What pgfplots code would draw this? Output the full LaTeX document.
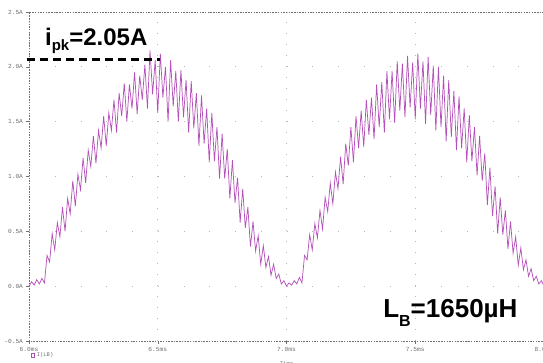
\documentclass[border=0pt]{standalone}
\usepackage{fontspec}
\setmainfont{Liberation Sans}
\newfontfamily\monofont{Liberation Mono}
\usepackage{pgfplots}
\pgfplotsset{compat=1.18}
\definecolor{trace}{RGB}{180,80,185}
\definecolor{tickgray}{RGB}{110,110,110}
\begin{document}
\begin{tikzpicture}
\begin{axis}[
 at={(29pt,21pt)}, anchor=south west,
 scale only axis, width=515pt, height=329pt,
 xmin=6, xmax=8, ymin=-0.5, ymax=2.5,
 xtick={6,6.5,7,7.5,8}, xticklabels={6.0ms,6.5ms,7.0ms,7.5ms,8.0ms},
 ytick={-0.5,0,0.5,1,1.5,2,2.5}, yticklabels={-0.5A,0.0A,0.5A,1.0A,1.5A,2.0A,2.5A},
 xtick pos=lower, ytick pos=left,
 tick align=outside, major tick length=2.5pt,
 tick style={tickgray, line width=0.5pt, solid},
 axis line style={tickgray, line width=0.6pt, dash pattern=on 1.5pt off 1.2pt},
 grid=major,
 x grid style={tickgray!50, line width=0.9pt, dash pattern=on 0.9pt off 10.07pt},
 y grid style={tickgray!50, line width=0.9pt, dash pattern=on 0.9pt off 24.85pt},
 ticklabel style={font=\monofont\fontsize{6.2}{6.2}\selectfont, text=tickgray},
 xlabel={Time}, xlabel style={font=\monofont\fontsize{5.5}{6}\selectfont, text=tickgray, at={(0.5,-0.052)}, anchor=north},
 legend style={draw=none, fill=none, at={(0.003,-0.043)}, anchor=west, font=\monofont\fontsize{5.5}{6}\selectfont, text=tickgray, inner sep=0pt},
 legend image code/.code={\draw[trace, line width=0.5pt, solid] (0pt,-1.8pt) rectangle (3.6pt,1.8pt);},
 clip=false,
]
\addplot[trace, line width=0.72pt] coordinates {
(6.00,0.00) (6.01,0.04) (6.02,0.01) (6.03,0.06) (6.04,0.02) (6.05,0.07) (6.06,0.03) (6.07,0.28)
(6.08,0.22) (6.09,0.48) (6.10,0.33) (6.11,0.58) (6.12,0.45) (6.13,0.72) (6.14,0.50) (6.15,0.80)
(6.16,0.66) (6.17,0.96) (6.18,0.73) (6.19,1.02) (6.20,0.88) (6.21,1.17) (6.22,0.94) (6.23,1.24)
(6.24,1.09) (6.25,1.37) (6.26,1.12) (6.27,1.42) (6.28,1.26) (6.29,1.55) (6.30,1.28) (6.31,1.58)
(6.32,1.42) (6.33,1.70) (6.34,1.40) (6.35,1.76) (6.36,1.55) (6.37,1.85) (6.38,1.50) (6.39,1.84)
(6.40,1.62) (6.41,1.95) (6.42,1.57) (6.43,1.92) (6.44,1.70) (6.45,2.02) (6.46,1.62) (6.47,2.15)
(6.48,1.75) (6.49,2.06) (6.50,1.58) (6.51,2.12) (6.52,1.72) (6.53,2.00) (6.54,1.50) (6.55,2.06)
(6.56,1.64) (6.57,1.96) (6.58,1.50) (6.59,1.97) (6.60,1.54) (6.61,1.88) (6.62,1.40) (6.63,1.87)
(6.64,1.44) (6.65,1.76) (6.66,1.28) (6.67,1.74) (6.68,1.30) (6.69,1.62) (6.70,1.13) (6.71,1.58)
(6.72,1.14) (6.73,1.45) (6.74,0.98) (6.75,1.39) (6.76,0.98) (6.77,1.25) (6.78,0.80) (6.79,1.15)
(6.80,0.76) (6.81,0.99) (6.82,0.58) (6.83,0.89) (6.84,0.53) (6.85,0.72) (6.86,0.36) (6.87,0.59)
(6.88,0.32) (6.89,0.46) (6.90,0.20) (6.91,0.37) (6.92,0.17) (6.93,0.27) (6.94,0.10) (6.95,0.20)
(6.96,0.07) (6.97,0.11) (6.98,0.02) (6.99,0.05)
(7.00,0.00) (7.01,0.03) (7.02,0.01) (7.03,0.05) (7.04,0.02) (7.05,0.08) (7.06,0.03) (7.07,0.28)
(7.08,0.24) (7.09,0.47) (7.10,0.33) (7.11,0.57) (7.12,0.44) (7.13,0.69) (7.14,0.52) (7.15,0.81)
(7.16,0.68) (7.17,0.94) (7.18,0.75) (7.19,1.04) (7.20,0.89) (7.21,1.18) (7.22,0.93) (7.23,1.30)
(7.24,1.10) (7.25,1.45) (7.26,1.13) (7.27,1.55) (7.28,1.26) (7.29,1.60) (7.30,1.27) (7.31,1.70)
(7.32,1.38) (7.33,1.72) (7.34,1.34) (7.35,1.84) (7.36,1.45) (7.37,1.86) (7.38,1.40) (7.39,1.96)
(7.40,1.52) (7.41,1.96) (7.42,1.49) (7.43,2.05) (7.44,1.60) (7.45,2.03) (7.46,1.54) (7.47,2.10)
(7.48,1.63) (7.49,2.04) (7.50,1.52) (7.51,2.12) (7.52,1.62) (7.53,2.05) (7.54,1.48) (7.55,2.09)
(7.56,1.56) (7.57,2.01) (7.58,1.42) (7.59,2.00) (7.60,1.45) (7.61,1.92) (7.62,1.32) (7.63,1.88)
(7.64,1.36) (7.65,1.78) (7.66,1.24) (7.67,1.73) (7.68,1.26) (7.69,1.62) (7.70,1.13) (7.71,1.56)
(7.72,1.14) (7.73,1.45) (7.74,1.01) (7.75,1.37) (7.76,0.96) (7.77,1.21) (7.78,0.74) (7.79,1.08)
(7.80,0.64) (7.81,0.91) (7.82,0.48) (7.83,0.81) (7.84,0.47) (7.85,0.69) (7.86,0.34) (7.87,0.59)
(7.88,0.30) (7.89,0.45) (7.90,0.19) (7.91,0.35) (7.92,0.15) (7.93,0.24) (7.94,0.09) (7.95,0.16)
(7.96,0.05) (7.97,0.09) (7.98,0.02) (7.99,0.05) (8.00,0.00)
};
\addlegendentry{I(LB)}
\addplot[black, line width=2.8pt, dash pattern=on 8pt off 5pt, forget plot] coordinates {(5.992,2.065) (6.51,2.065)};
\node[anchor=base west, inner sep=0pt, font=\bfseries\fontsize{24}{24}\selectfont] at (axis cs:6.062,2.19) {i\raisebox{-0.2em}{\fontsize{15}{15}\selectfont pk}=2.05A};
\node[anchor=base west, inner sep=0pt, font=\bfseries\fontsize{26}{26}\selectfont] at (axis cs:7.375,-0.282) {L\raisebox{-0.38em}{\fontsize{16}{16}\selectfont B}=1650µH};
\end{axis}
\pgfresetboundingbox
\path[use as bounding box] (0,0) rectangle (543pt,362pt);
\end{tikzpicture}
\end{document}
